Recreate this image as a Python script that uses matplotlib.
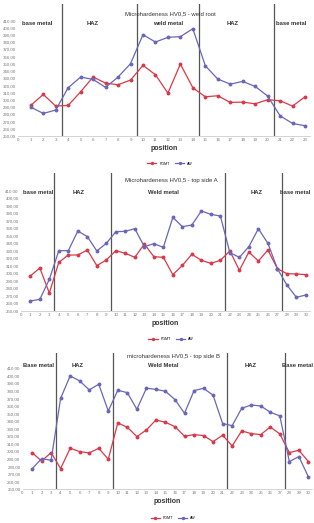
"""
Microhardness HV0,5 profiles: weld root, top side A, top side B
"""

import numpy as np
import matplotlib.pyplot as plt

plt.rcParams['font.family'] = ['Liberation Sans', 'DejaVu Sans']

################################################################################
# Data
pos_root = list(range(1, 24))
pgmt_root = [292.4, 307.7, 291.5, 292.4, 311.4, 331.8, 323.4, 321.1, 327.6, 348.0,
             335.0, 309.5, 349.8, 317.0, 304.4, 305.8, 296.6, 297.0, 294.7, 300.3,
             298.9, 291.5, 304.4]
aw_root = [290.0, 281.3, 286.0, 317.0, 331.8, 328.5, 317.4, 331.8, 350.3, 390.6,
           380.4, 386.9, 387.8, 398.9, 347.5, 329.0, 322.0, 325.7, 318.8, 305.4,
           278.0, 267.4, 264.2]

pos_side = list(range(1, 31))
pgmt_a = [296.2, 306.9, 273.6, 314.4, 324.2, 324.2, 330.9, 310.0, 317.6, 330.0,
          326.4, 321.1, 338.9, 322.0, 321.1, 298.0, 310.4, 325.1, 317.1, 313.1,
          317.1, 329.6, 303.8, 328.2, 316.2, 330.9, 306.0, 299.3, 298.9, 298.0]
aw_a = [262.9, 265.1, 291.8, 330.0, 330.0, 356.2, 348.7, 329.6, 339.8, 355.3,
        355.8, 359.3, 335.3, 339.3, 334.4, 374.4, 362.0, 364.2, 382.9, 378.4,
        376.2, 327.3, 321.1, 335.3, 359.3, 339.8, 306.0, 284.2, 267.8, 270.9]

pgmt_b = [298.5, 287.5, 298.5, 277.4, 304.3, 299.9, 298.1, 304.3, 289.7, 337.8,
          332.0, 319.7, 328.5, 341.7, 338.6, 332.9, 320.1, 322.3, 321.0, 313.1,
          321.5, 307.4, 327.2, 323.7, 322.3, 332.5, 323.2, 298.5, 301.6, 286.7]
aw_b = [277.0, 290.6, 288.4, 370.4, 399.9, 393.3, 381.4, 388.9, 353.6, 380.9,
        377.8, 355.8, 383.6, 382.2, 379.6, 368.6, 350.5, 380.5, 383.6, 374.3,
        336.9, 334.2, 357.1, 361.5, 360.2, 351.9, 347.1, 286.7, 293.3, 266.4]

titles = ['Microhardeness HV0,5 - weld root',
          'Microhardeness HV0,5 - top side A',
          'microhardeness HV0,5 - top side B']
zone_bounds_root = [3.5, 9.5, 14.5, 20.5]
zone_bounds_side = [3.5, 9.5, 21.5, 27.5]
zones_root = ['base metal', 'HAZ', 'weld metal', 'HAZ', 'base metal']
zones_a = ['base metal', 'HAZ', 'Weld metal', 'HAZ', 'base metal']
zones_b = ['Base metal', 'HAZ', 'Weld Metal', 'HAZ', 'Base metal']
yticks = list(range(250, 420, 10))

################################################################################
red = '#d83a4a'
blue = '#6a66b8'
std_clr = '#333333'

fig = plt.figure(figsize=(3.14, 5.23), dpi=100)

panels = [
    dict(rect=[0.0583, 0.740, 0.929, 0.2524], xmax=23.4, ytop=433.2,
         pos=pos_root, pgmt=pgmt_root, aw=aw_root, bounds=zone_bounds_root,
         zones=zones_root, title=titles[0], ty=419, zy=406.5,
         zx=[1.5, 6.0, 12.0, 17.2, 21.9]),
    dict(rect=[0.0663, 0.406, 0.920, 0.2633], xmax=30.4, ytop=433.6,
         pos=pos_side, pgmt=pgmt_a, aw=aw_a, bounds=zone_bounds_side,
         zones=zones_a, title=titles[1], ty=424, zy=408,
         zx=[1.8, 6.1, 15.0, 24.8, 28.85]),
    dict(rect=[0.0717, 0.0644, 0.9226, 0.2612], xmax=30.4, ytop=430.6,
         pos=pos_side, pgmt=pgmt_b, aw=aw_b, bounds=zone_bounds_side,
         zones=zones_b, title=titles[2], ty=425, zy=414,
         zx=[1.7, 5.8, 14.8, 23.9, 28.85]),
]

for p in panels:
    ax = fig.add_axes(p['rect'])
    ax.plot(p['pos'], p['pgmt'], color=red, linewidth=0.9, marker='o',
            markersize=1.8, label='PGMT', zorder=3)
    ax.plot(p['pos'], p['aw'], color=blue, linewidth=0.9, marker='o',
            markersize=1.8, label='AW', zorder=3)
    for b in p['bounds']:
        ax.axvline(b, color='#555555', linewidth=0.9, zorder=2)
    ax.set_xlim(0, p['xmax'])
    ax.set_ylim(250, p['ytop'])
    ax.set_yticks(yticks)
    ax.set_yticklabels(['%d,00' % v for v in yticks])
    ax.set_xticks(range(0, len(p['pos']) + 1))
    ax.tick_params(axis='both', length=0, labelsize=3.2, colors='#777777', pad=1.5)
    for s in ['top', 'right', 'left']:
        ax.spines[s].set_visible(False)
    ax.spines['bottom'].set_color('#cccccc')
    ax.spines['bottom'].set_linewidth(0.6)
    # Title and zone labels
    ax.text(p['xmax'] * 0.52, p['ty'], p['title'], ha='center', va='center',
            fontsize=4.3, color=std_clr)
    for zx, zl in zip(p['zx'], p['zones']):
        ax.text(zx, p['zy'], zl, ha='center', va='center', fontsize=4.2,
                fontweight='bold', color=std_clr)
    ax.set_xlabel('position', fontsize=5, fontweight='bold', color=std_clr, labelpad=2)
    ax.legend(loc='upper center', bbox_to_anchor=(0.52, -0.17), ncol=2,
              frameon=False, fontsize=2.6, handlelength=2.5, columnspacing=1.5,
              markerscale=0.8)

plt.savefig('out.png', dpi=100)
